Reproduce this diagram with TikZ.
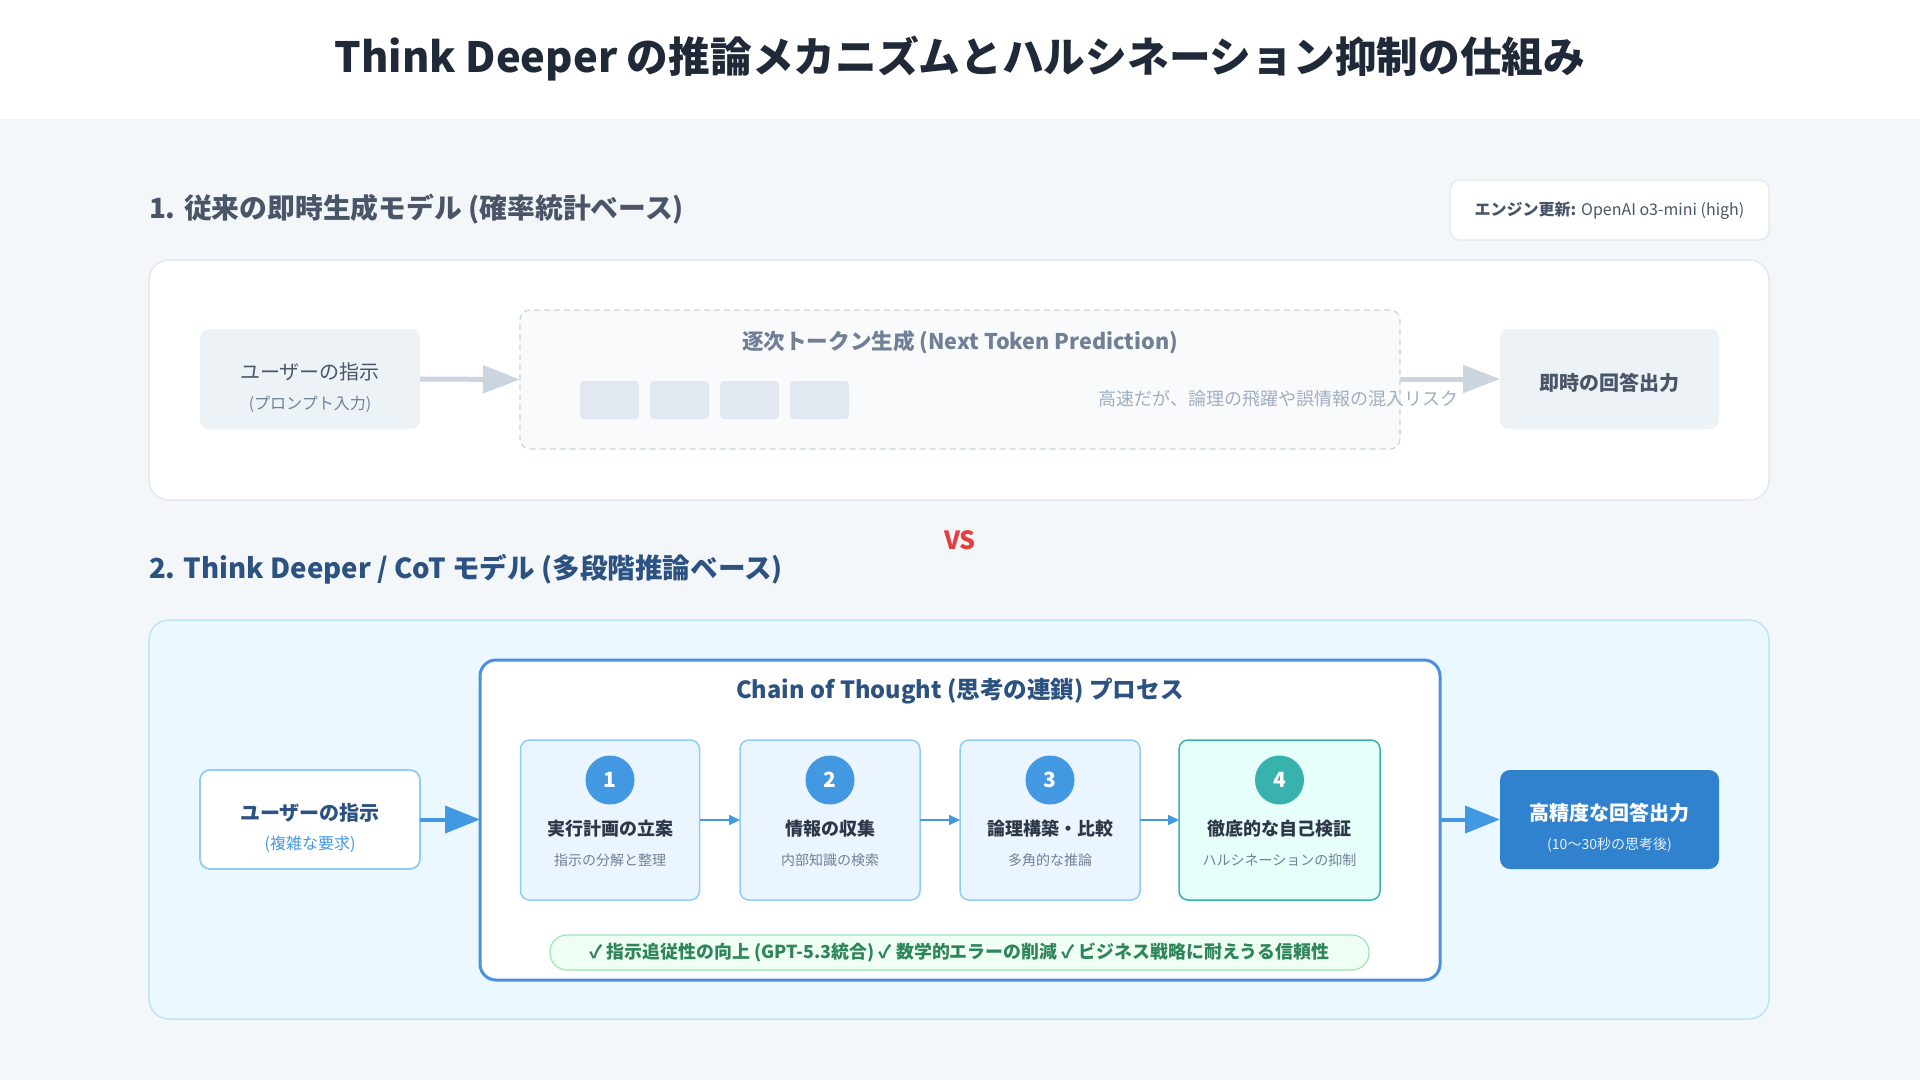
\documentclass[tikz,border=0pt]{standalone}
\usepackage{fontspec}
\setmainfont{Noto Sans CJK JP}
\usetikzlibrary{arrows.meta}
\definecolor{pagebg}{HTML}{F4F7F9}
\definecolor{titlec}{HTML}{1F2937}
\definecolor{headgray}{HTML}{4A5568}
\definecolor{textgray}{HTML}{4A5568}
\definecolor{subgray}{HTML}{718096}
\definecolor{lightgray}{HTML}{A0AEC0}
\definecolor{boxborder}{HTML}{E2E8F0}
\definecolor{nodefill}{HTML}{EDF2F7}
\definecolor{tokfill}{HTML}{E2E8F0}
\definecolor{dashfill}{HTML}{F8FAFC}
\definecolor{dashborder}{HTML}{CBD5E0}
\definecolor{arrowgray}{HTML}{CBD5E0}
\definecolor{darkblue}{HTML}{2C5282}
\definecolor{midblue}{HTML}{4299E1}
\definecolor{cotborder}{HTML}{4A90E2}
\definecolor{secfill}{HTML}{EBF8FF}
\definecolor{secborder}{HTML}{BEE3F8}
\definecolor{lightblue}{HTML}{90CDF4}
\definecolor{stepfill}{HTML}{EBF5FF}
\definecolor{tealfill}{HTML}{E6FFFA}
\definecolor{teal}{HTML}{38B2AC}
\definecolor{outfill}{HTML}{3182CE}
\definecolor{greenfill}{HTML}{F0FFF4}
\definecolor{greenborder}{HTML}{9AE6B4}
\definecolor{greentext}{HTML}{2F855A}
\definecolor{vsred}{HTML}{E53E3E}
\definecolor{steptitle}{HTML}{2D3748}
\newcommand{\fs}[1]{\fontsize{#1}{#1}\selectfont}
\tikzset{
  txt/.style={inner sep=0pt, outer sep=0pt},
  plainbox/.style={inner sep=0pt, outer sep=0pt},
  garrow/.style={draw=arrowgray, line width=5pt, -{Triangle[length=37pt,width=27pt]}},
  barrow/.style={draw=midblue, line width=4pt, -{Triangle[length=35pt,width=27pt]}},
  sarrow/.style={draw=midblue, line width=2pt, -{Triangle[length=11pt,width=10pt]}},
  stepbox/.style={plainbox, draw=lightblue, line width=1.5pt, fill=stepfill, rounded corners=9pt, minimum height=160pt},
  numcirc/.style={circle, fill=midblue, minimum size=49pt, inner sep=0pt, text=white, font=\fs{21}\bfseries},
  steptitlestyle/.style={txt, text=steptitle, font=\fs{18}\bfseries},
  stepsub/.style={txt, text=subgray, font=\fs{14}},
  token/.style={plainbox, fill=tokfill, rounded corners=4pt, minimum width=59pt, minimum height=38pt}
}
\begin{document}
\begin{tikzpicture}[x=1pt,y=-1pt]
\fill[pagebg] (0,0) rectangle (1920,1080);
\fill[white] (0,0) rectangle (1920,119);
\useasboundingbox (0,0) rectangle (1920,1080);

% title
\node[txt, text=titlec, font=\fs{41.7}\bfseries] (title) at (960,59) {Think Deeper の推論メカニズムとハルシネーション抑制の仕組み};

% section 1
\node[txt, anchor=west, text=headgray, font=\fs{27.8}\bfseries] (h1) at (149,209.5) {1. 従来の即時生成モデル (確率統計ベース)};
\node[plainbox, draw=boxborder, line width=1.2pt, fill=white, rounded corners=10pt, minimum width=319pt, minimum height=60pt] (engine) at (1609.5,210) {};
\node[txt, text=textgray, font=\fs{16}] (enginet) at (1609.5,211) {{\bfseries エンジン更新:} OpenAI o3-mini (high)};

\node[plainbox, draw=boxborder, line width=1.5pt, fill=white, rounded corners=20pt, minimum width=1620pt, minimum height=240pt] (sec1) at (959,380) {};

\node[plainbox, fill=nodefill, rounded corners=9pt, minimum width=220pt, minimum height=100pt] (u1) at (310,379) {};
\node[txt, text=textgray, font=\fs{20}] (u1t) at (310,372) {ユーザーの指示};
\node[txt, text=subgray, font=\fs{16}] (u1s) at (310,404) {(プロンプト入力)};

\node[plainbox, draw=dashborder, dash pattern=on 6pt off 4pt, line width=1.2pt, fill=dashfill, rounded corners=10pt, minimum width=880pt, minimum height=139pt] (gen) at (960,379.5) {};
\node[txt, text=subgray, font=\fs{21.6}\bfseries] (gent) at (960,342.5) {逐次トークン生成 (Next Token Prediction)};
\node[token] (t1) at (609.5,400) {};
\node[token] (t2) at (679.5,400) {};
\node[token] (t3) at (749.5,400) {};
\node[token] (t4) at (819.5,400) {};
\node[txt, anchor=east, text=lightgray, font=\fs{18}] (risk) at (1458,399) {高速だが、論理の飛躍や誤情報の混入リスク};

\node[plainbox, fill=nodefill, rounded corners=9pt, minimum width=219pt, minimum height=100pt] (o1) at (1609.5,379) {};
\node[txt, text=textgray, font=\fs{20}\bfseries] (o1t) at (1609.5,382.5) {即時の回答出力};

\draw[garrow] (u1.east) -- (gen.west);
\draw[garrow] (gen.east |- o1.west) -- (o1.west);

% vs
\node[txt, text=vsred, font=\fs{25}\bfseries] (vs) at (960,540.5) {VS};

% section 2
\node[txt, anchor=west, text=darkblue, font=\fs{27.6}\bfseries] (h2) at (149,569.5) {2. Think Deeper / CoT モデル (多段階推論ベース)};
\node[plainbox, draw=secborder, line width=1.5pt, fill=secfill, rounded corners=20pt, minimum width=1620pt, minimum height=399pt] (sec2) at (959,819.5) {};

\node[plainbox, draw=lightblue, line width=1.8pt, fill=white, rounded corners=10pt, minimum width=220pt, minimum height=99pt] (u2) at (310,819.5) {};
\node[txt, text=darkblue, font=\fs{20}\bfseries] (u2t) at (310,812.5) {ユーザーの指示};
\node[txt, text=midblue, font=\fs{16}] (u2s) at (310,844.5) {(複雑な要求)};

\node[plainbox, draw=cotborder, line width=3pt, fill=white, rounded corners=16pt, minimum width=960pt, minimum height=320pt] (cot) at (960,820) {};
\node[txt, text=darkblue, font=\fs{23.6}\bfseries] (cott) at (960,691.5) {Chain of Thought (思考の連鎖) プロセス};

\node[stepbox, minimum width=179pt] (s1) at (610,820) {};
\node[stepbox, minimum width=180pt] (s2) at (830,820) {};
\node[stepbox, minimum width=180pt] (s3) at (1050,820) {};
\node[stepbox, minimum width=201pt, draw=teal, fill=tealfill] (s4) at (1279.5,820) {};

\node[numcirc] (c1) at (610,780) {1};
\node[numcirc] (c2) at (830,780) {2};
\node[numcirc] (c3) at (1050,780) {3};
\node[numcirc, fill=teal] (c4) at (1279.5,780) {4};

\node[steptitlestyle] (s1t) at (610,828.5) {実行計画の立案};
\node[stepsub] (s1s) at (610,860) {指示の分解と整理};
\node[steptitlestyle] (s2t) at (830,828.5) {情報の収集};
\node[stepsub] (s2s) at (830,860) {内部知識の検索};
\node[steptitlestyle] (s3t) at (1050,828.5) {論理構築・比較};
\node[stepsub] (s3s) at (1050,860) {多角的な推論};
\node[steptitlestyle] (s4t) at (1279.5,828.5) {徹底的な自己検証};
\node[stepsub] (s4s) at (1279.5,860) {ハルシネーションの抑制};

\draw[sarrow] (s1.east) -- (s2.west);
\draw[sarrow] (s2.east) -- (s3.west);
\draw[sarrow] (s3.east) -- (s4.west);

\node[plainbox, draw=greenborder, line width=1.2pt, fill=greenfill, rounded corners=17pt, minimum width=819pt, minimum height=35pt] (green) at (959.5,952.5) {};
\node[txt, text=greentext, font=\fs{17.9}\bfseries] (greent) at (959.5,953) {✓ 指示追従性の向上 (GPT-5.3統合) ✓ 数学的エラーの削減 ✓ ビジネス戦略に耐えうる信頼性};

\node[plainbox, fill=outfill, rounded corners=10pt, minimum width=219pt, minimum height=99pt] (o2) at (1609.5,819.5) {};
\node[txt, text=white, font=\fs{20}\bfseries] (o2t) at (1609.5,812.5) {高精度な回答出力};
\node[txt, text=white!88!outfill, font=\fs{14}] (o2s) at (1609.5,844.5) {(10〜30秒の思考後)};

\draw[barrow] (u2.east) -- (cot.west |- u2.east);
\draw[barrow] (cot.east |- o2.west) -- (o2.west);
\end{tikzpicture}
\end{document}
